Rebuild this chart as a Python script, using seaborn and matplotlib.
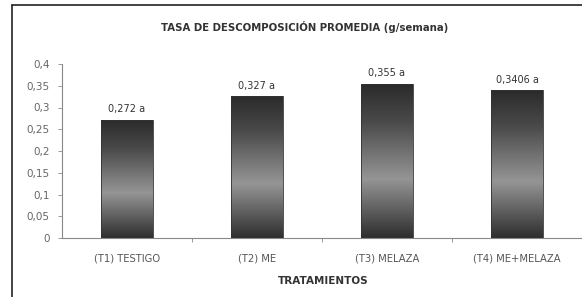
import numpy as np
import pandas as pd
import matplotlib
matplotlib.use("Agg")
import matplotlib.pyplot as plt
import seaborn as sns
from matplotlib.colors import LinearSegmentedColormap
from matplotlib.ticker import FuncFormatter

#-----------DATA-----------
tratamientos = ["(T1) TESTIGO", "(T2) ME", "(T3) MELAZA", "(T4) ME+MELAZA"]
tasa = [0.272, 0.327, 0.355, 0.3406]
etiquetas = ["0,272 a", "0,327 a", "0,355 a", "0,3406 a"]
yticks = [0, 0.05, 0.1, 0.15, 0.2, 0.25, 0.3, 0.35, 0.4]

df = pd.DataFrame({"Tratamiento": tratamientos, "Tasa": tasa})

sns.set_style("white")
plt.rcParams["font.family"] = ["DejaVu Sans"]

fig = plt.figure(figsize=(5.82, 2.97), dpi=100)
ax = fig.add_axes([62/582, 1-238/297, 1-62/582, (238-64)/297])

sns.barplot(data=df, x="Tratamiento", y="Tasa", color="#555555", width=0.4, ax=ax)

#-----------gradient fill on the bars (dark top, light lower middle, dark base)-----------
cmap = LinearSegmentedColormap.from_list(
    "barra", [(0, "#2e2e2e"), (0.38, "#959595"), (0.75, "#4a4a4a"), (1, "#2a2a2a")])
grad = np.linspace(0, 1, 256).reshape(-1, 1)
for p in ax.patches:
    x0, y0 = p.get_x(), p.get_y()
    w, h = p.get_width(), p.get_height()
    p.set_facecolor("none")
    p.set_edgecolor("#333333")
    p.set_linewidth(0.6)
    im = ax.imshow(grad, cmap=cmap, extent=[x0, x0 + w, y0, y0 + h],
                   aspect="auto", origin="lower", zorder=p.get_zorder() - 0.1)
    im.set_clip_path(p)

for i, lab in enumerate(etiquetas):
    ax.text(i, tasa[i] + 0.012, lab, ha="center", va="bottom",
            fontsize=7, color="#333333")

ax.set_xlim(-0.5, 3.5)
ax.set_ylim(0, 0.4)
ax.set_yticks(yticks)
ax.yaxis.set_major_formatter(FuncFormatter(lambda v, _: ("%g" % v).replace(".", ",")))
ax.set_xticks([0.5, 1.5, 2.5])
ax.set_xticklabels([])
for i, t in enumerate(tratamientos):
    ax.text(i, -0.035, t, ha="center", va="top", fontsize=7.2, color="#555555")
ax.tick_params(axis="y", direction="out", length=3, width=0.6, color="#888888",
               labelsize=7.5, labelcolor="#666666", pad=6, left=True)
ax.tick_params(axis="x", direction="out", length=3, width=0.6, color="#888888", bottom=True)
ax.set_xlabel("")
ax.set_ylabel("")
for s in ["top", "right"]:
    ax.spines[s].set_visible(False)
for s in ["left", "bottom"]:
    ax.spines[s].set_color("#888888")
    ax.spines[s].set_linewidth(0.8)

fig.text(323/582, 1-281/297, "TRATAMIENTOS", ha="center", va="center",
         fontsize=7.5, fontweight="bold", color="#333333")
fig.text(305/582, 1-27/297, "TASA DE DESCOMPOSICIÓN PROMEDIA (g/semana)",
         ha="center", va="center", fontsize=7.3, fontweight="bold", color="#333333")

# outer chart frame
fig.add_artist(plt.Line2D([12/582, 12/582], [0, 1-5/297], color="#222222", lw=1.2))
fig.add_artist(plt.Line2D([12/582, 1], [1-5/297, 1-5/297], color="#222222", lw=1.2))

plt.savefig("out.png", dpi=100)
plt.close()
